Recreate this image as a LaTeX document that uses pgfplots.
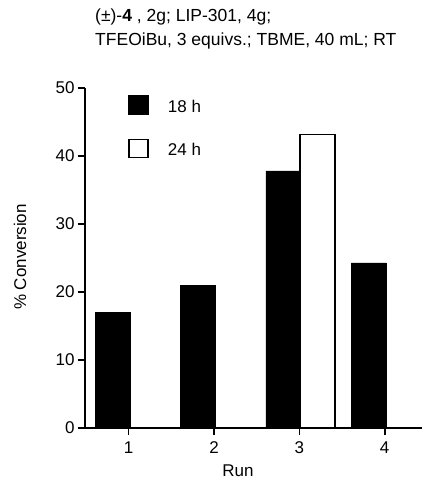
\documentclass[border=0pt]{standalone}
\usepackage{pgfplots}
\pgfplotsset{compat=1.18}
\usepackage{fontspec}
\setmainfont{Liberation Sans}
\begin{document}
\begin{tikzpicture}[x=1pt,y=1pt]
\path[use as bounding box] (0,0) rectangle (422,-483);
\node[anchor=north west, align=left, inner sep=0pt, font=\fontsize{17.5}{24}\selectfont] at (95,-9)
  {(±)-\textbf{4} , 2g; LIP-301, 4g;\\TFEOiBu, 3 equivs.; TBME, 40 mL; RT};
\begin{axis}[
  at={(85pt,-428pt)}, anchor=south west,
  scale only axis, width=337pt, height=340pt,
  xmin=0.488, xmax=4.437, ymin=0, ymax=50,
  axis lines=left, axis line style={-, line width=1.6pt},
  tick align=outside, major tick length=7pt,
  tick style={line width=1.6pt, black},
  xtick={1,2,3,4}, ytick={0,10,20,30,40,50},
  /pgf/number format/assume math mode=true,
  font=\fontsize{17}{19}\selectfont,
  xticklabel style={yshift=-3pt},
  xlabel={Run}, ylabel={\% Conversion},
  xlabel style={at={(axis description cs:0.454,-0.126)}, anchor=center},
  ylabel style={at={(axis description cs:-0.193,0.503)}, anchor=center, rotate=0},
  ybar, bar width=35pt,
  clip=false,
  legend style={at={(axis description cs:0.1276,0.979)}, anchor=north west,
    draw=none, fill=none, inner sep=0pt, row sep=24pt,
    font=\fontsize{17}{19}\selectfont,
    nodes={inner sep=0pt}},
  legend cell align=left,
  legend image code/.code={\draw[#1, line width=1.4pt] (0pt,-7pt) rectangle (19pt,11pt); \path[draw=none,fill=none] (19pt,0pt) -- (39pt,0pt);},
]
\addplot[fill=black, draw=black, bar shift=-16pt] coordinates {(1,17) (2,21) (3,37.8) (4,24.3)};
\addplot[fill=white, draw=black, line width=1.4pt, bar shift=18pt] coordinates {(3,43.2)};
\legend{18 h, 24 h}
\end{axis}
\end{tikzpicture}
\end{document}
